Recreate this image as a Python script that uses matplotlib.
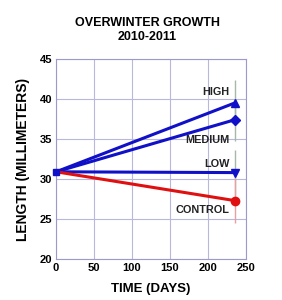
import numpy as np
import matplotlib.pyplot as plt

plt.rcParams['font.family'] = ['Liberation Sans', 'DejaVu Sans']
plt.rcParams['font.weight'] = 'bold'

# ==== DATOS ====
days = [0, 235]
groups = ['HIGH', 'MEDIUM', 'LOW', 'CONTROL']
lengths = {
    'HIGH': [30.9, 39.5],
    'MEDIUM': [30.9, 37.4],
    'LOW': [30.9, 30.8],
    'CONTROL': [30.9, 27.3],
}
err_end = {'HIGH': 2.9, 'MEDIUM': 2.6, 'LOW': 2.8, 'CONTROL': 2.8}
markers = {'HIGH': '^', 'MEDIUM': 'D', 'LOW': 'v', 'CONTROL': 'o'}
colors = {'HIGH': '#1010c8', 'MEDIUM': '#1010c8', 'LOW': '#1010c8', 'CONTROL': '#e01010'}
err_colors = {'HIGH': '#a8b8a8', 'MEDIUM': '#a8b8a8', 'LOW': '#a8b8a8', 'CONTROL': '#e8a0a0'}
label_pos = {'HIGH': 40.9, 'MEDIUM': 34.9, 'LOW': 31.9, 'CONTROL': 26.1}

fig = plt.figure(figsize=(2.82, 3.0), dpi=100)
ax = fig.add_axes([0.199, 0.137, 0.673, 0.666])

# barras de error (atrás)
for g in groups:
    ax.errorbar(days[1], lengths[g][1], yerr=err_end[g], color=err_colors[g],
                lw=1, capsize=0, zorder=2)

for g in groups:
    ax.plot(days, lengths[g], color=colors[g], lw=2.2, marker=markers[g],
            markersize=6 if g != 'MEDIUM' else 5, markevery=[1], zorder=3)
    ax.text(days[1] - 7, label_pos[g], g, ha='right', va='center',
            fontsize=7.8, fontweight='bold', color='#222222')

# punto de inicio
ax.plot([days[0]], [lengths['HIGH'][0]], marker='s', color='#1010c8',
        markersize=5, zorder=4, clip_on=False)

ax.set_xlim(0, 250)
ax.set_ylim(20, 45)
ax.set_xticks(np.arange(0, 251, 50))
ax.set_yticks(np.arange(20, 46, 5))
ax.grid(True, color='#b8b8dc', lw=0.8)
for s in ax.spines.values():
    s.set_color('#9a9acc')
ax.tick_params(length=0, labelsize=8, pad=3)
for lab in ax.get_xticklabels() + ax.get_yticklabels():
    lab.set_fontweight('bold')

ax.set_xlabel('TIME (DAYS)', fontsize=9.5, fontweight='bold', labelpad=7)
ax.set_ylabel('LENGTH (MILLIMETERS)', fontsize=10, fontweight='bold', labelpad=7)
fig.text(0.523, 0.9, 'OVERWINTER GROWTH\n2010-2011', ha='center', va='center',
         fontsize=9, fontweight='bold', linespacing=1.3)

fig.savefig('out.png', dpi=100)
